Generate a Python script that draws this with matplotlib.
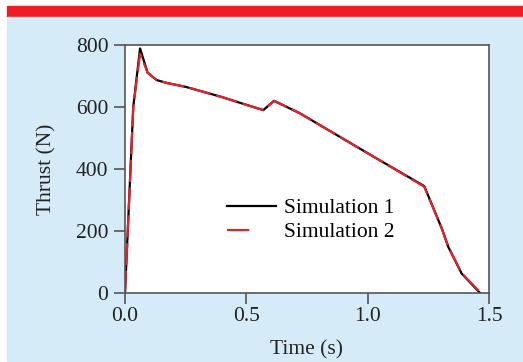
import matplotlib
matplotlib.use("Agg")
import matplotlib.pyplot as plt
from matplotlib.lines import Line2D
from matplotlib.patches import Rectangle

# thrust curves
time_s = [0.0, 0.034, 0.062, 0.093, 0.13, 0.17, 0.25, 0.40, 0.50, 0.57,
          0.614, 0.72, 0.90, 1.05, 1.233, 1.305, 1.332, 1.387, 1.463]
thrust_sim1 = [0, 600, 789, 711, 687, 678, 665, 632, 607, 590,
               620, 580, 497, 428, 345, 209, 149, 63, 0]
thrust_sim2 = [0, 598, 772, 711, 687, 678, 665, 632, 607, 590,
               620, 580, 497, 428, 343, 209, 150, 64, 3]
x_ticks = [0.0, 0.5, 1.0, 1.5]
y_ticks = [0, 200, 400, 600, 800]

plt.rcParams["font.family"] = ["Liberation Serif", "DejaVu Serif"]
plt.rcParams["font.size"] = 15.5

W, H = 523, 362
fig = plt.figure(figsize=(W / 100, H / 100), dpi=100, facecolor="white")

# banner and panel background (behind the axes)
fig.patches.append(Rectangle((7 / W, 1 - 17 / H), 1, 11 / H, transform=fig.transFigure,
                             color="#ee1c25", zorder=-2))
fig.patches.append(Rectangle((7 / W, 1 / H), 1, (H - 18) / H, transform=fig.transFigure,
                             color="#d5ecf8", zorder=-2))

ax = fig.add_axes([125 / W, 1 - 293 / H, (489 - 125) / W, (293 - 45) / H])
ax.set_facecolor("white")

ax.plot(time_s, thrust_sim1, color="black", lw=1.6)
ax.plot(time_s, thrust_sim2, color="#e8202a", lw=1.6, dashes=(10, 2.5))

ax.set_xlim(0, 1.5)
ax.set_ylim(0, 800)
ax.set_xticks(x_ticks)
ax.set_xticklabels([f"{t:.1f}" for t in x_ticks])
ax.set_yticks(y_ticks)
ax.tick_params(direction="out", length=8, width=1.2, color="#555555", labelcolor="#222222")
ax.tick_params(axis="y", pad=4)
ax.tick_params(axis="x", pad=2)
for s in ax.spines.values():
    s.set_color("#555555")
    s.set_linewidth(1.2)

ax.set_xlabel("Time (s)", color="#222222", labelpad=10)
ax.set_ylabel("Thrust (N)", color="#222222", labelpad=14)

handles = [Line2D([], [], color="black", lw=1.6),
           Line2D([], [], color="#e8202a", lw=1.6, dashes=(10, 40))]
ax.legend(handles, ["Simulation 1", "Simulation 2"], frameon=False,
          loc="upper left", bbox_to_anchor=(0.28, 0.383), borderaxespad=0,
          borderpad=0, handlelength=2.3, handletextpad=0.33, labelspacing=0.2)

fig.savefig("out.png", dpi=100, facecolor="white")
